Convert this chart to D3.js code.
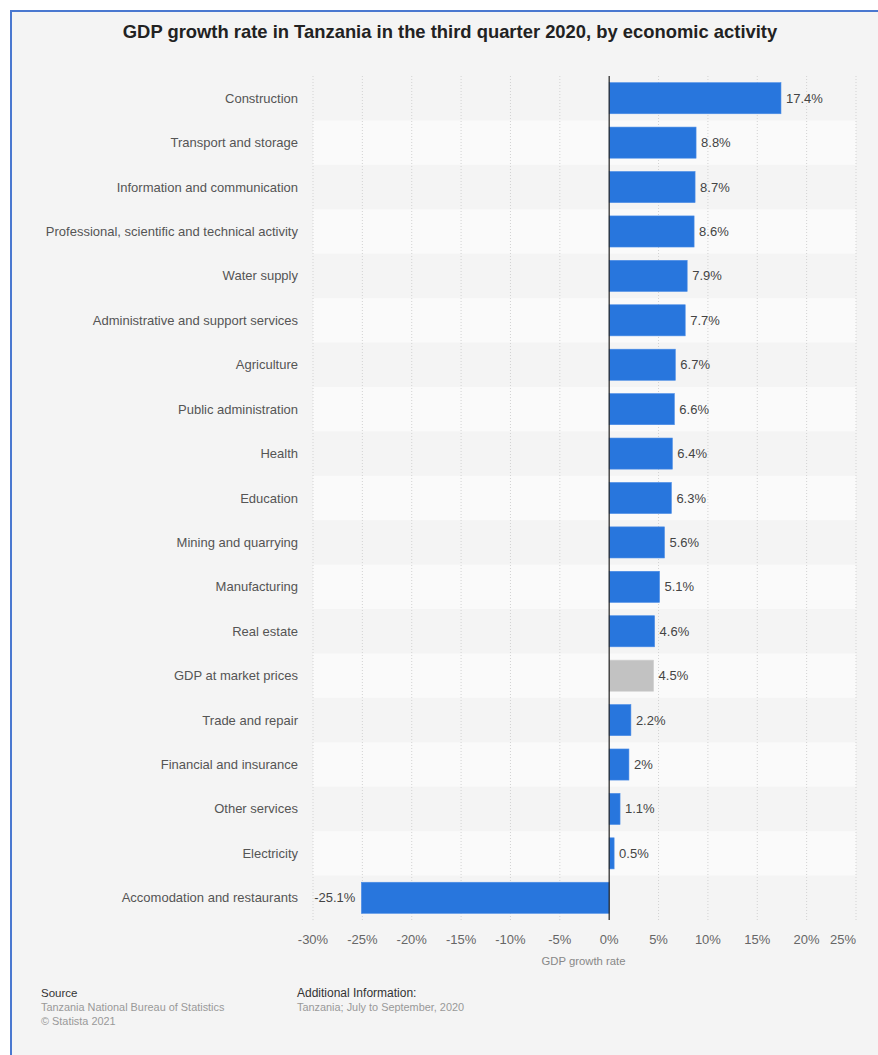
<!DOCTYPE html>
<html>
<head>
<meta charset="utf-8">
<script src="https://cdn.jsdelivr.net/npm/d3@7"></script>
<style>
    body { margin: 0; background: #fff; }
    svg { display: block; font-family: "Liberation Sans", Arial, sans-serif; }
</style>
</head>
<body>
<div id="chart"></div>
<script>
// Data
const categories = [
    'Construction', 'Transport and storage', 'Information and communication',
    'Professional, scientific and technical activity', 'Water supply',
    'Administrative and support services', 'Agriculture', 'Public administration',
    'Health', 'Education', 'Mining and quarrying', 'Manufacturing', 'Real estate',
    'GDP at market prices', 'Trade and repair', 'Financial and insurance',
    'Other services', 'Electricity', 'Accomodation and restaurants'
];
const growth = [17.4, 8.8, 8.7, 8.6, 7.9, 7.7, 6.7, 6.6, 6.4, 6.3, 5.6, 5.1, 4.6, 4.5, 2.2, 2, 1.1, 0.5, -25.1];
const highlight = ['GDP at market prices'];
const xTicks = [-30, -25, -20, -15, -10, -5, 0, 5, 10, 15, 20, 25];

const W = 878, H = 1055;
const plot = { left: 313, right: 856, top: 76, bottom: 920 };

const svg = d3.select('#chart')
    .append('svg')
    .attr('width', W)
    .attr('height', H);

// Frame
svg.append('rect')
    .attr('x', 11).attr('y', 11)
    .attr('width', W - 11).attr('height', H - 11)
    .attr('fill', '#f4f4f4');
svg.append('line')
    .attr('x1', 11).attr('x2', W).attr('y1', 11).attr('y2', 11)
    .attr('stroke', '#4a78d0').attr('stroke-width', 2);
svg.append('line')
    .attr('x1', 11).attr('x2', 11).attr('y1', 10).attr('y2', H)
    .attr('stroke', '#4a78d0').attr('stroke-width', 2);

// Title
svg.append('text')
    .attr('x', 450).attr('y', 38)
    .attr('text-anchor', 'middle')
    .attr('font-size', 18.4).attr('font-weight', 'bold')
    .attr('fill', '#222')
    .text('GDP growth rate in Tanzania in the third quarter 2020, by economic activity');

const x = d3.scaleLinear()
    .domain([xTicks[0], xTicks[xTicks.length - 1]])
    .range([plot.left, plot.right]);

const y = d3.scaleBand()
    .domain(categories)
    .range([plot.top, plot.bottom])
    .paddingInner(0.3)
    .paddingOuter(0.15);

const step = y.step();

// Alternating row bands
svg.selectAll('.band')
    .data(categories.filter((d, i) => i % 2 === 1))
    .enter()
    .append('rect')
    .attr('x', plot.left)
    .attr('y', d => y(d) + y.bandwidth() / 2 - step / 2)
    .attr('width', plot.right - plot.left)
    .attr('height', step)
    .attr('fill', '#fafafa');

// Grid lines
svg.selectAll('.grid')
    .data(xTicks.filter(t => t !== 0))
    .enter()
    .append('line')
    .attr('x1', d => x(d)).attr('x2', d => x(d))
    .attr('y1', plot.top).attr('y2', plot.bottom)
    .attr('stroke', '#d2d2d2')
    .attr('stroke-dasharray', '1,2');

// Bars
svg.selectAll('.bar')
    .data(categories)
    .enter()
    .append('rect')
    .attr('x', (d, i) => x(Math.min(0, growth[i])))
    .attr('y', d => y(d))
    .attr('width', (d, i) => Math.abs(x(growth[i]) - x(0)))
    .attr('height', y.bandwidth())
    .attr('fill', d => highlight.includes(d) ? '#c2c2c2' : '#2876dd')
    .attr('stroke', d => highlight.includes(d) ? '#d0d0d0' : '#4a8ce6')
    .attr('stroke-width', 0.6);

// Zero line
svg.append('line')
    .attr('x1', x(0)).attr('x2', x(0))
    .attr('y1', plot.top).attr('y2', plot.bottom)
    .attr('stroke', '#222').attr('stroke-width', 1.2);

// Value labels
svg.selectAll('.val')
    .data(categories)
    .enter()
    .append('text')
    .attr('x', (d, i) => growth[i] < 0 ? x(growth[i]) - 6 : x(growth[i]) + 5)
    .attr('y', d => y(d) + y.bandwidth() / 2 + 4.5)
    .attr('text-anchor', (d, i) => growth[i] < 0 ? 'end' : 'start')
    .attr('font-size', 13)
    .attr('fill', '#444')
    .text((d, i) => growth[i] + '%');

// Category labels
svg.selectAll('.cat')
    .data(categories)
    .enter()
    .append('text')
    .attr('x', 298)
    .attr('y', d => y(d) + y.bandwidth() / 2 + 4.5)
    .attr('text-anchor', 'end')
    .attr('font-size', 13)
    .attr('fill', '#555')
    .text(d => d);

// X tick labels
svg.selectAll('.tick')
    .data(xTicks)
    .enter()
    .append('text')
    .attr('x', d => x(d))
    .attr('y', 944)
    .attr('text-anchor', (d, i) => i === xTicks.length - 1 ? 'end' : 'middle')
    .attr('font-size', 13)
    .attr('fill', '#666')
    .text(d => d + '%');

svg.append('text')
    .attr('x', (plot.left + plot.right) / 2 - 1)
    .attr('y', 965)
    .attr('text-anchor', 'middle')
    .attr('font-size', 11.3)
    .attr('fill', '#888')
    .text('GDP growth rate');

// Footer
const foot = svg.append('g').attr('font-size', 10.9);
foot.append('text').attr('x', 41).attr('y', 997).attr('fill', '#333').attr('font-size', 11.5).text('Source');
foot.append('text').attr('x', 41).attr('y', 1011).attr('fill', '#999').text('Tanzania National Bureau of Statistics');
foot.append('text').attr('x', 41).attr('y', 1025).attr('fill', '#999').text('© Statista 2021');
foot.append('text').attr('x', 297).attr('y', 997).attr('fill', '#333').attr('font-size', 12).text('Additional Information:');
foot.append('text').attr('x', 297).attr('y', 1011).attr('fill', '#999').text('Tanzania; July to September, 2020');
</script>
</body>
</html>
